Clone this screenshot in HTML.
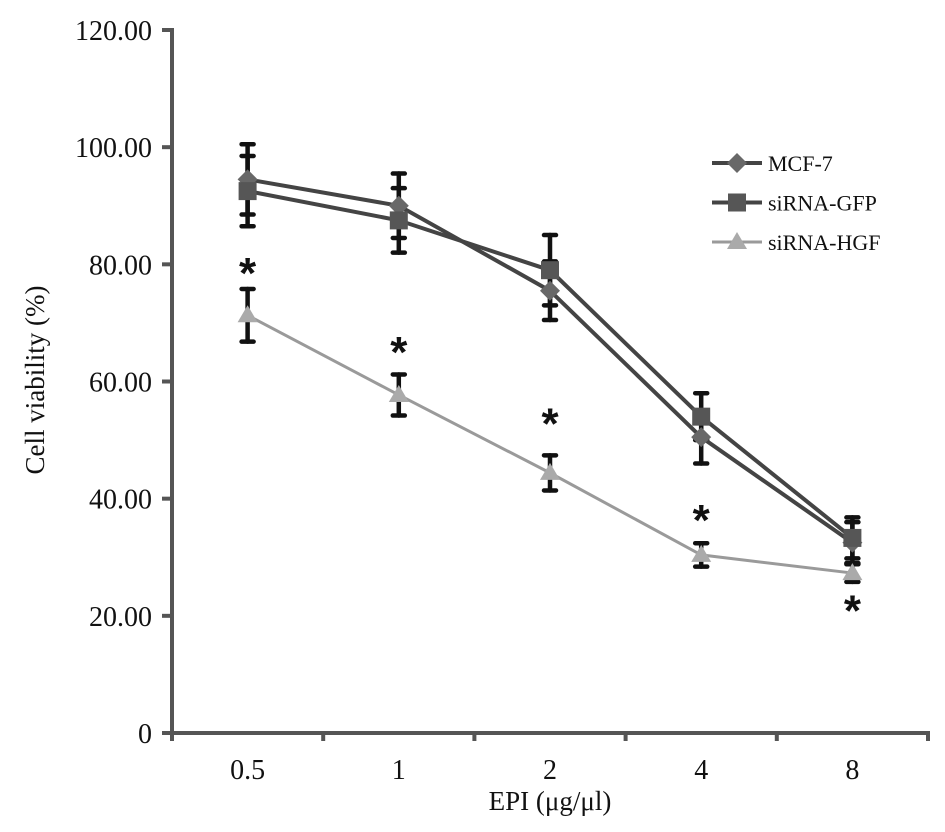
<!DOCTYPE html>
<html><head><meta charset="utf-8"><style>
html,body{margin:0;padding:0;background:#fff;}
svg{display:block;font-family:"Liberation Serif",serif;}
</style></head><body>
<svg id="chart" width="945" height="832" viewBox="0 0 945 832"></svg>
<script>
const categories = ["0.5","1","2","4","8"];
const mcf7 = [94.5, 90, 75.5, 50.5, 32.5];
const mcf7Err = [6, 5.5, 5, 4.5, 3.5];
const gfp = [92.5, 87.5, 79, 54, 33.3];
const gfpErr = [6, 5.5, 6, 4, 3.5];
const hgf = [71.3, 57.7, 44.4, 30.4, 27.3];
const hgfErr = [4.5, 3.5, 3, 2, 1.5];
const yTicks = [0, 20, 40, 60, 80, 100, 120];
const yTickLabels = ["0","20.00","40.00","60.00","80.00","100.00","120.00"];
const starPositions = [79.4, 65.9, 53.7, 37.2, 21.8];

const NS = "http://www.w3.org/2000/svg";
const svg = document.getElementById("chart");
const X0 = 172, X1 = 928, Y0 = 733, Y1 = 30;
const band = (X1 - X0) / categories.length;
const xs = i => X0 + band * (i + 0.5);
const ys = v => Y0 - (v / 120) * (Y0 - Y1);
function mk(tag, attrs, parent) {
  const e = document.createElementNS(NS, tag);
  for (const k in attrs) e.setAttribute(k, attrs[k]);
  (parent || svg).appendChild(e);
  return e;
}
const yAxis = mk("line", {x1: X0, y1: Y1 - 2, x2: X0, y2: Y0 + 7, stroke: "#555", "stroke-width": 4});


const xAxis = mk("line", {x1: X0 - 10, y1: Y0, x2: X1 + 2, y2: Y0, stroke: "#555", "stroke-width": 4});


yTicks.forEach((v, i) => {
  const t = mk("line", {x1: X0 - 10, y1: ys(v), x2: X0, y2: ys(v), stroke: "#555", "stroke-width": 4});
  
  
  const l = mk("text", {x: 152, y: ys(v) + 10, "text-anchor": "end", "font-size": 28, fill: "#111"});
  l.textContent = yTickLabels[i];
  
  
});
for (let i = 0; i <= categories.length; i++) {
  const t = mk("line", {x1: X0 + band * i, y1: Y0, x2: X0 + band * i, y2: Y0 + 8, stroke: "#555", "stroke-width": 4});
  
  
}
categories.forEach((c, i) => {
  const l = mk("text", {x: xs(i), y: Y0 + 46, "text-anchor": "middle", "font-size": 28, fill: "#111"});
  l.textContent = c;
  
  
});
const xt = mk("text", {x: 550, y: 810, "text-anchor": "middle", "font-size": 27, fill: "#111"});
xt.textContent = "EPI (μg/μl)";


const yt = mk("text", {x: 0, y: 0, "text-anchor": "middle", "font-size": 27, fill: "#111", transform: "translate(44,380) rotate(-90)"});
yt.textContent = "Cell viability (%)";



function errBars(vals, errs, name) {
  vals.forEach((v, i) => {
    const g = mk("g", {stroke: "#111", "stroke-width": 4.5, "stroke-linecap": "round"});
    
    
    const x = xs(i), a = ys(v + errs[i]), b = ys(v - errs[i]);
    mk("line", {x1: x, y1: a, x2: x, y2: b}, g);
    mk("line", {x1: x - 6, y1: a, x2: x + 6, y2: a}, g);
    mk("line", {x1: x - 6, y1: b, x2: x + 6, y2: b}, g);
  });
}
function series(vals, color, width, name) {
  const p = mk("polyline", {points: vals.map((v, i) => xs(i) + "," + ys(v)).join(" "), fill: "none", stroke: color, "stroke-width": width});
  
  
}
function marker(type, x, y, fill, name) {
  let e;
  if (type === "diamond") e = mk("polygon", {points: `${x},${y-10} ${x+10},${y} ${x},${y+10} ${x-10},${y}`, fill: fill});
  else if (type === "square") e = mk("rect", {x: x - 9, y: y - 9, width: 18, height: 18, fill: fill});
  else e = mk("polygon", {points: `${x},${y-10} ${x+10},${y+7} ${x-10},${y+7}`, fill: fill});
  
  
}
errBars(mcf7, mcf7Err, "mcf7");
errBars(gfp, gfpErr, "sirna-gfp");
errBars(hgf, hgfErr, "sirna-hgf");
series(hgf, "#9a9a9a", 3, "sirna-hgf");
series(mcf7, "#444", 4, "mcf7");
series(gfp, "#444", 4, "sirna-gfp");
mcf7.forEach((v, i) => marker("diamond", xs(i), ys(v), "#686868", "mcf7"));
gfp.forEach((v, i) => marker("square", xs(i), ys(v), "#565656", "sirna-gfp"));
hgf.forEach((v, i) => marker("triangle", xs(i), ys(v), "#aaaaaa", "sirna-hgf"));
starPositions.forEach((v, i) => {
  const s = mk("text", {x: xs(i), y: ys(v) + 20, "text-anchor": "middle", "font-size": 44, "font-weight": "bold", fill: "#111", "font-family": "Liberation Sans, sans-serif"});
  s.textContent = "*";
  
  
});
const legendItems = [["MCF-7", "diamond", "#444", "#686868", 4], ["siRNA-GFP", "square", "#444", "#565656", 4], ["siRNA-HGF", "triangle", "#9a9a9a", "#aaaaaa", 3]];
legendItems.forEach((it, i) => {
  const y = 163 + i * 39.5;
  const g = mk("g", {});
  
  
  mk("line", {x1: 712, y1: y, x2: 762, y2: y, stroke: it[2], "stroke-width": it[4]}, g);
  marker(it[1], 737, y, it[3], "legend");
  const t = mk("text", {x: 768, y: y + 8, "font-size": 22, fill: "#111"}, g);
  t.textContent = it[0];
});
</script>
</body></html>
